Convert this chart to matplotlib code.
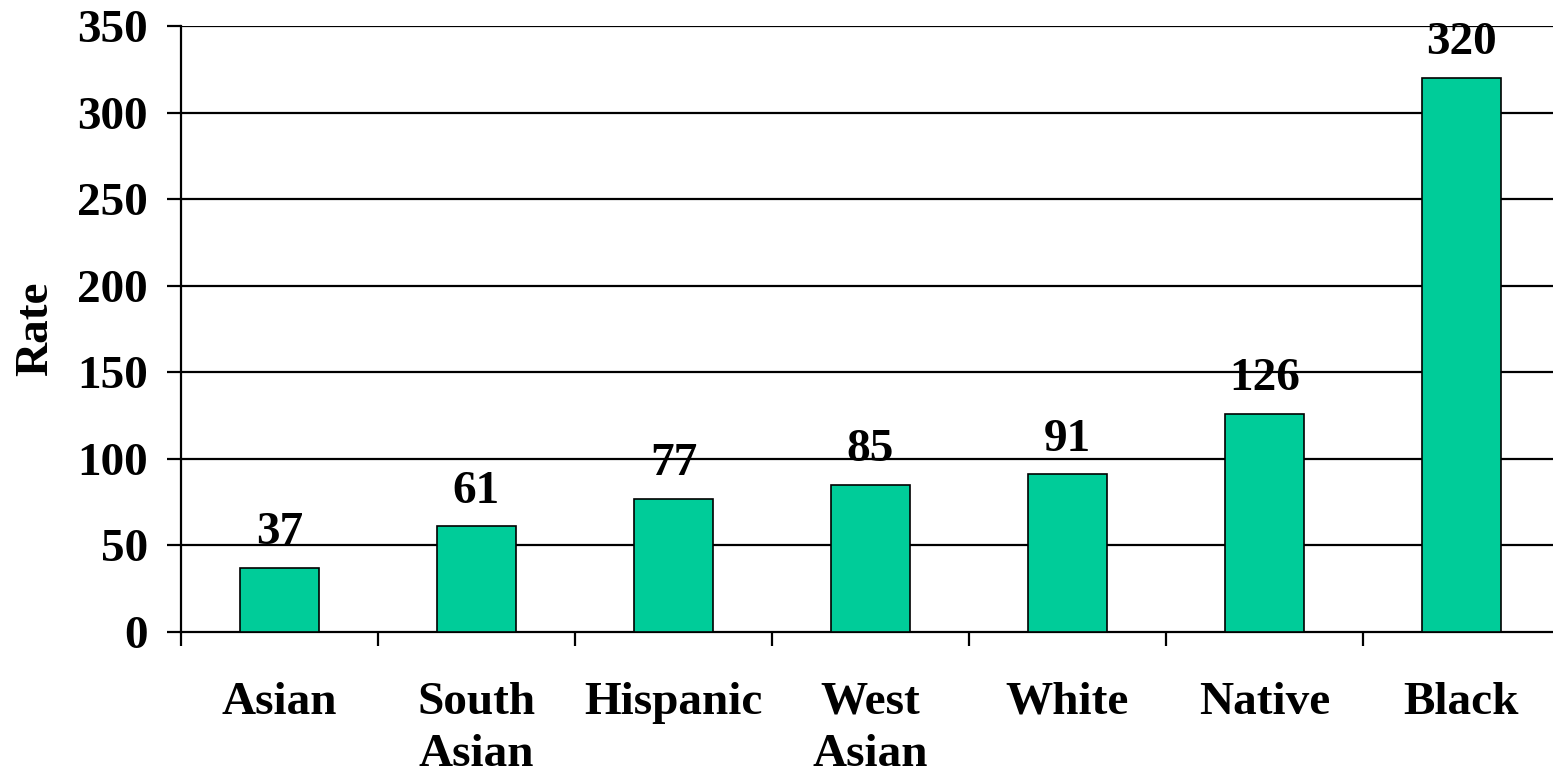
import numpy as np
import matplotlib
matplotlib.use("Agg")
import matplotlib.pyplot as plt

categories = ["Asian", "South\nAsian", "Hispanic", "West\nAsian", "White", "Native", "Black"]
rates = [37, 61, 77, 85, 91, 126, 320]
yticks = [0, 50, 100, 150, 200, 250, 300, 350]

plt.rcParams['font.family'] = ['Liberation Serif', 'DejaVu Serif']
plt.rcParams['font.weight'] = 'bold'

fig = plt.figure(figsize=(15.53, 7.74), dpi=100)
# plot area runs slightly past the right edge of the picture, as in the original
ax = fig.add_axes([181/1553, 1 - 632/774, (1560 - 181)/1553, (632 - 26)/774])

x = np.arange(len(categories))
ax.bar(x, rates, width=0.4, color='#00CC99', edgecolor='black', linewidth=1.2, zorder=3)

for xi, r in zip(x, rates):
    ax.annotate(str(r), (xi, r), xytext=(0, 17), textcoords='offset points',
                ha='center', va='baseline', fontsize=34, fontweight='bold', zorder=4)

ax.set_xlim(-0.5, len(categories) - 0.5)
ax.set_ylim(0, 350)
ax.set_yticks(yticks)
ax.set_yticklabels([str(t) for t in yticks])
for t in yticks[1:]:
    ax.axhline(t, color='black', linewidth=1.6, zorder=1)

# ticks at the category boundaries, labels in the middle
ax.set_xticks(np.arange(len(categories) + 1) - 0.5)
ax.set_xticklabels([])
ax.set_xticks(x, minor=True)
ax.set_xticklabels(categories, minor=True, fontsize=34, fontweight='bold', linespacing=1.3)
ax.tick_params(axis='x', which='major', direction='out', length=10, width=1.6)
ax.tick_params(axis='x', which='minor', length=0, pad=36)
ax.tick_params(axis='y', direction='out', length=10, width=1.6, labelsize=34, pad=14)
for lab in ax.get_yticklabels():
    lab.set_fontweight('bold')

ax.spines['top'].set_visible(False)
ax.spines['right'].set_visible(False)
ax.spines['left'].set_linewidth(1.6)
ax.spines['bottom'].set_linewidth(1.6)

ax.set_ylabel("Rate", fontsize=34, fontweight='bold', labelpad=14)

fig.savefig("out.png", dpi=100)
